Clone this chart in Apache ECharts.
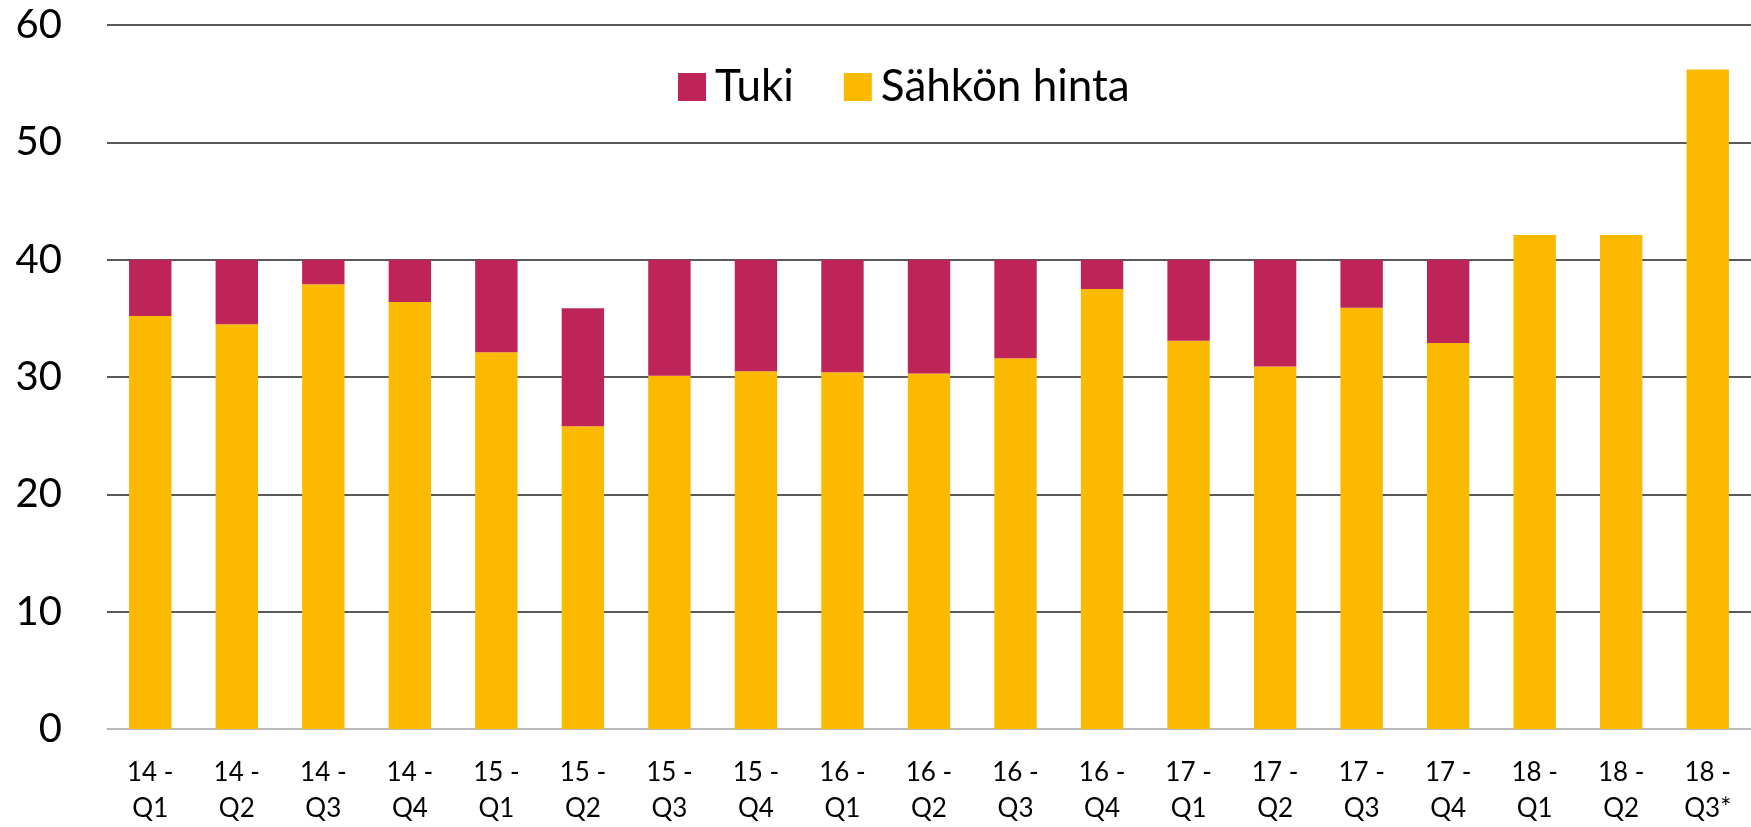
<!DOCTYPE html>
<html>
<head>
<meta charset="utf-8">
<title>Tuki ja sähkön hinta</title>
<script src="https://cdn.jsdelivr.net/npm/echarts@6/dist/echarts.min.js"></script>
<style>
  html, body { margin: 0; padding: 0; background: #fff; }
  #chart { width: 1751px; height: 827px; }
</style>
</head>
<body>
<div id="chart"></div>
<script>
// neljännekset
const categories = [
  '14 -\nQ1', '14 -\nQ2', '14 -\nQ3', '14 -\nQ4',
  '15 -\nQ1', '15 -\nQ2', '15 -\nQ3', '15 -\nQ4',
  '16 -\nQ1', '16 -\nQ2', '16 -\nQ3', '16 -\nQ4',
  '17 -\nQ1', '17 -\nQ2', '17 -\nQ3', '17 -\nQ4',
  '18 -\nQ1', '18 -\nQ2', '18 -\nQ3*'
];
// sähkön hinta (alaosa)
const sahkonHinta = [
  35.2, 34.5, 37.9, 36.4,
  32.1, 25.8, 30.1, 30.5,
  30.4, 30.3, 31.6, 37.5,
  33.1, 30.9, 35.9, 32.9,
  42.1, 42.1, 56.2
];
// tuki (yläosa)
const tuki = [
  4.8, 5.5, 2.1, 3.6,
  7.9, 10.05, 9.9, 9.5,
  9.6, 9.7, 8.4, 2.5,
  6.9, 9.1, 4.1, 7.1,
  0, 0, 0
];
const yTicks = { min: 0, max: 60, interval: 10 };

const FONT = 'Lato, "Open Sans", sans-serif';
const TUKI_COLOR = '#BE2457';
const HINTA_COLOR = '#FBB900';

let chart = echarts.init(document.getElementById('chart'), null, { renderer: 'canvas' });

let option = {
  animation: false,
  textStyle: { fontFamily: FONT, color: '#000' },
  legend: {
    top: 60,
    left: 673,
    itemWidth: 28,
    itemHeight: 28,
    itemGap: 50,
    icon: 'rect',
    textStyle: { fontFamily: FONT, fontSize: 44, color: '#000', padding: [0, 0, 0, 4] },
    data: ['Tuki', 'Sähkön hinta'],
  },
  grid: {
    left: 107,
    right: -5,
    top: 25,
    bottom: 97,
    containLabel: false,
  },
  xAxis: {
    type: 'category',
    data: categories,
    axisTick: { show: false },
    axisLine: { show: true, lineStyle: { color: '#d9d9d9', width: 1.5 } },
    axisLabel: {
      fontFamily: FONT,
      fontSize: 26,
      color: '#000',
      lineHeight: 36,
      margin: 26,
      interval: 0,
    },
  },
  yAxis: {
    type: 'value',
    min: yTicks.min,
    max: yTicks.max,
    interval: yTicks.interval,
    axisLine: { show: false },
    axisTick: { show: false },
    axisLabel: { fontFamily: FONT, fontSize: 40, color: '#000', margin: 45 },
    splitLine: { lineStyle: { color: '#222', width: 1.5 } },
  },
  series: [
    {
      name: 'Sähkön hinta',
      type: 'bar',
      stack: 'total',
      barWidth: '49%',
      itemStyle: { color: HINTA_COLOR },
      data: sahkonHinta,
    },
    {
      name: 'Tuki',
      type: 'bar',
      stack: 'total',
      barWidth: '49%',
      itemStyle: { color: TUKI_COLOR },
      data: tuki,
    },
  ],
};

chart.setOption(option);
</script>
</body>
</html>
